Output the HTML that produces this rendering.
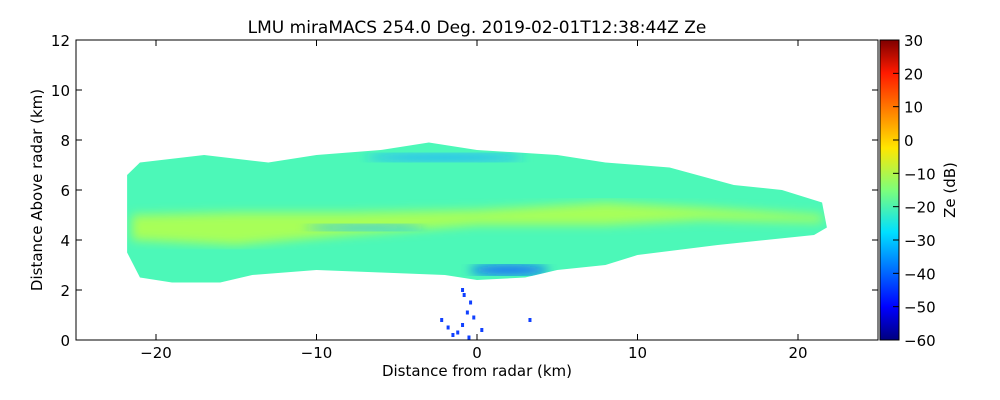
<!DOCTYPE html>
<html><head><meta charset="utf-8"><style>
body{margin:0;background:#fff;}
svg{display:block;font-family:"DejaVu Sans","Liberation Sans",sans-serif;}
</style></head><body>
<svg width="1000" height="400" viewBox="0 0 1000 400">
<defs>
<linearGradient id="jet" x1="0" y1="1" x2="0" y2="0">
<stop offset="0" stop-color="#00007f"/><stop offset="0.11" stop-color="#0000ff"/>
<stop offset="0.36" stop-color="#00e0ff"/><stop offset="0.5" stop-color="#7dff7a"/>
<stop offset="0.64" stop-color="#ffe600"/><stop offset="0.89" stop-color="#ff1a00"/>
<stop offset="1" stop-color="#7f0000"/></linearGradient>
<clipPath id="echoClip"><polygon id="clipPoly"/></clipPath>
<filter id="blur"><feGaussianBlur stdDeviation="5"/></filter>
</defs>
<text x="477" y="33" text-anchor="middle" font-size="17">LMU miraMACS 254.0 Deg. 2019-02-01T12:38:44Z  Ze</text>
<g id="plot"></g>
<rect x="76" y="40" width="802" height="300" fill="none" stroke="#000" stroke-width="1"/>
<g id="xaxis"></g>
<g id="yaxis"></g>
<text x="477" y="376" text-anchor="middle" font-size="15">Distance from radar (km)</text>
<text transform="translate(42,190) rotate(-90)" text-anchor="middle" font-size="15">Distance Above radar  (km)</text>
<rect x="880" y="40" width="19" height="300" fill="url(#jet)" stroke="#000"/>
<g id="cbaxis"></g>
<text transform="translate(955,190) rotate(-90)" text-anchor="middle" font-size="15">Ze (dB)</text>
</svg>
<script>
const xTicks=[-20,-10,0,10,20];
const yTicks=[0,2,4,6,8,10,12];
const cbTicks=[30,20,10,0,-10,-20,-30,-40,-50,-60];
const echoTopX=[-21.8,-21,-17,-13,-10,-6,-3,0,5,8,12,16,19,21.5,21.8];
const echoTopY=[6.6,7.1,7.4,7.1,7.4,7.6,7.9,7.6,7.4,7.1,6.9,6.2,6.0,5.5,4.5];
const echoBotX=[21,15,10,8,5,3,0,-2,-6,-10,-14,-16,-19,-21,-21.8];
const echoBotY=[4.2,3.8,3.4,3.0,2.8,2.5,2.4,2.6,2.7,2.8,2.6,2.3,2.3,2.5,3.5];
const coreX=[-21.5,-15,-8,0,8,14,21.5,21.5,14,8,0,-8,-15,-21.5];
const coreY=[5.0,5.1,5.1,5.2,5.5,5.3,5.0,4.7,4.8,4.6,4.6,4.2,3.8,4.0];
const specksX=[-1.2,-0.9,-0.6,-0.4,-1.5,-0.2,0.3,-0.8,-1.8,-2.2,-0.5,3.3,-0.9];
const specksY=[0.3,0.6,1.1,1.5,0.2,0.9,0.4,1.8,0.5,0.8,0.1,0.8,2.0];
const cbMin=-60,cbMax=30;
const X=v=>477+v*16.05, Y=v=>340-v*25, CB=v=>340-(v-cbMin)/(cbMax-cbMin)*300;
const NS="http://www.w3.org/2000/svg";
function mk(t,a,p){const e=document.createElementNS(NS,t);for(const k in a)e.setAttribute(k,a[k]);p.appendChild(e);return e;}
const plot=document.getElementById('plot');
let pts=echoTopX.map((x,i)=>X(x)+','+Y(echoTopY[i])).concat(echoBotX.map((x,i)=>X(x)+','+Y(echoBotY[i]))).join(' ');
document.getElementById('clipPoly').setAttribute('points',pts);
const echo=mk('polygon',{points:pts,fill:'#4cf8b8'},plot);


const g=mk('g',{'clip-path':'url(#echoClip)'},plot);
const core=mk('polygon',{points:coreX.map((x,i)=>X(x)+','+Y(coreY[i])).join(' '),fill:'#a8ff58',filter:'url(#blur)'},g);


const s1=mk('ellipse',{cx:X(-2),cy:Y(7.3),rx:80,ry:4,fill:'#20b0ff',filter:'url(#blur)'},g);


const s2=mk('ellipse',{cx:X(2),cy:Y(2.8),rx:40,ry:5,fill:'#1060ff',filter:'url(#blur)'},g);


const s3=mk('ellipse',{cx:X(-7),cy:Y(4.5),rx:60,ry:3,fill:'#20c0ff',filter:'url(#blur)'},g);


specksX.forEach((x,i)=>{const r=mk('rect',{x:X(x)-1.5,y:Y(specksY[i])-2,width:3,height:4,fill:'#1040ff'},plot);

});
const xa=document.getElementById('xaxis');
xTicks.forEach(t=>{mk('line',{x1:X(t),x2:X(t),y1:340,y2:334,stroke:'#000'},xa);mk('line',{x1:X(t),x2:X(t),y1:40,y2:46,stroke:'#000'},xa);
const tx=mk('text',{x:X(t),y:358,'text-anchor':'middle','font-size':'15'},xa);tx.textContent=(t<0?'\u2212'+(-t):t);

});
const ya=document.getElementById('yaxis');
yTicks.forEach(t=>{mk('line',{x1:76,x2:82,y1:Y(t),y2:Y(t),stroke:'#000'},ya);mk('line',{x1:872,x2:878,y1:Y(t),y2:Y(t),stroke:'#000'},ya);
const tx=mk('text',{x:70,y:Y(t)+6,'text-anchor':'end','font-size':'15'},ya);tx.textContent=t;

});
const ca=document.getElementById('cbaxis');
cbTicks.forEach(t=>{mk('line',{x1:893,x2:899,y1:CB(t),y2:CB(t),stroke:'#000'},ca);
const tx=mk('text',{x:904,y:CB(t)+6,'font-size':'15'},ca);tx.textContent=(t<0?'\u2212'+(-t):t);

});
</script>
</body></html>
